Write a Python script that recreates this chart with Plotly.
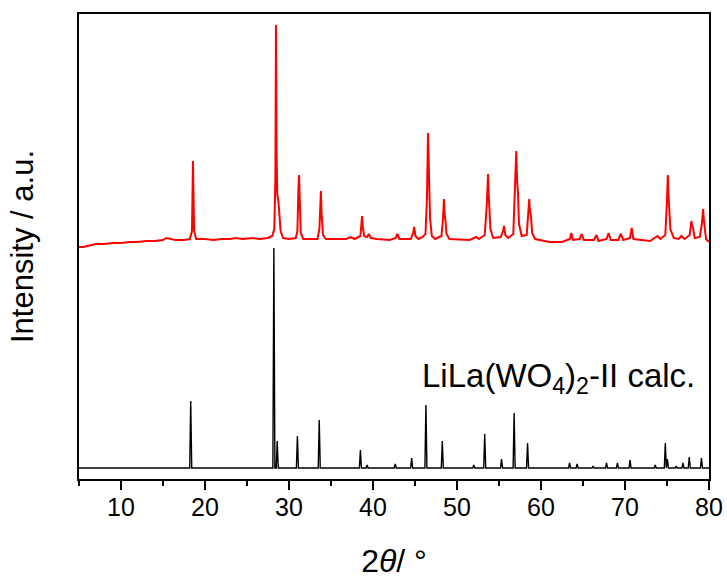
import plotly.graph_objects as go

# Measured powder pattern (2theta in degrees, intensity in arbitrary units, offset upward)
exp_two_theta = [
    5.0, 5.5, 6.0, 6.5, 7.0, 8.0, 9.0, 10.0, 11.0, 12.0, 13.0, 14.0, 15.0, 15.4, 15.8,
    16.5, 17.5, 18.2, 18.45, 18.52, 18.57, 18.62, 18.7, 18.95, 20.0, 21.0, 22.0, 23.0,
    23.65, 24.5, 25.7, 26.5, 27.5, 28.0, 28.25, 28.38, 28.45, 28.52, 28.6, 28.75, 28.85,
    29.0, 29.3, 30.0, 30.8, 31.0, 31.12, 31.2, 31.28, 31.4, 31.7, 33.4, 33.62, 33.73,
    33.8, 33.88, 34.05, 34.4, 36.8, 37.35, 37.8, 38.5, 38.63, 38.7, 38.78, 38.95, 39.3,
    39.5, 39.75, 40.5, 42.0, 42.7, 42.9, 43.15, 44.5, 44.78, 44.9, 45.05, 45.4, 45.9,
    46.25, 46.42, 46.55, 46.62, 46.7, 46.8, 47.0, 47.4, 48.15, 48.33, 48.45, 48.52,
    48.6, 48.75, 49.1, 51.5, 52.3, 52.6, 53.3, 53.55, 53.7, 53.77, 53.85, 53.98, 54.3,
    55.2, 55.48, 55.6, 55.75, 56.1, 56.7, 56.93, 57.06, 57.14, 57.26, 57.38, 57.7, 58.3,
    58.5, 58.6, 58.68, 58.8, 58.95, 59.3, 61.0, 62.5, 63.45, 63.6, 63.8, 64.6, 64.85,
    65.1, 66.3, 66.6, 66.85, 67.8, 68.05, 68.3, 69.2, 69.5, 69.8, 70.6, 70.8, 71.0,
    73.0, 73.85, 74.2, 74.8, 74.98, 75.1, 75.17, 75.25, 75.4, 75.8, 76.4, 76.7, 77.1,
    77.7, 77.9, 78.0, 78.1, 78.3, 78.9, 79.15, 79.3, 79.38, 79.45, 79.65, 80.0,
]
exp_intensity = [
    232, 232, 233, 234, 235, 235, 236, 236, 237, 237, 238, 238, 239, 241, 240,
    239, 239, 240, 248, 290, 318, 290, 248, 240, 240, 239, 240, 240,
    241, 240, 241, 240, 241, 243, 250, 300, 454, 330, 285, 277, 262,
    248, 241, 240, 241, 248, 290, 304, 280, 246, 240, 240, 250, 280,
    288, 265, 244, 240, 240, 242, 240, 243, 255, 263, 252, 243, 242,
    245, 241, 240, 239, 241, 245, 240, 240, 246, 252, 243, 240, 242,
    245, 280, 346, 300, 292, 260, 243, 240, 243, 260, 280, 265,
    261, 245, 240, 239, 242, 240, 244, 275, 305, 285, 274, 250, 241,
    242, 248, 253, 244, 241, 245, 290, 328, 300, 286, 255, 243, 244,
    270, 280, 268, 263, 246, 240, 237, 237, 240, 246, 239, 240, 245,
    239, 239, 244, 238, 240, 246, 239, 239, 245, 239, 241, 251, 240,
    238, 243, 240, 244, 275, 304, 285, 272, 250, 241, 240, 243, 240,
    244, 258, 253, 251, 241, 242, 255, 270, 260, 255, 240, 237,
]

# Calculated reflections of LiLa(WO4)2-II (position, height above baseline level)
calc_positions = [
    18.3, 28.2, 28.6, 31.0, 33.6, 38.5, 39.3, 42.65, 44.6, 46.3, 48.25, 52.0, 53.3,
    55.3, 56.8, 58.4, 63.4, 64.3, 66.2, 67.8, 69.1, 70.6, 73.6, 74.8, 75.05, 76.1,
    76.9, 77.65, 79.1,
]
calc_intensity = [
    78, 231, 38, 43, 59, 29, 14, 15, 21, 74, 38, 14, 45,
    20, 66, 36, 16, 15, 13, 16, 16, 19, 14, 36, 20, 13,
    16, 22, 21,
]
calc_baseline = 11
x_range = [5, 80]
x_ticks = [10, 20, 30, 40, 50, 60, 70, 80]

# Build the stick-like calculated profile on a flat baseline
peak_half_width = 0.12
calc_x = [x_range[0]]
calc_y = [calc_baseline]
for pos, height in zip(calc_positions, calc_intensity):
    calc_x += [pos - peak_half_width, pos, pos + peak_half_width]
    calc_y += [calc_baseline, height, calc_baseline]
calc_x.append(x_range[1])
calc_y.append(calc_baseline)

font_family = "Liberation Sans, Arial, sans-serif"

fig = go.Figure()
fig.add_trace(go.Scatter(
    x=exp_two_theta, y=exp_intensity, mode="lines",
    line=dict(color="#ff0000", width=2), showlegend=False,
))
fig.add_trace(go.Scatter(
    x=calc_x, y=calc_y, mode="lines",
    line=dict(color="#000000", width=1.4), showlegend=False,
))

fig.add_annotation(
    x=78.6, y=101, xref="x", yref="y",
    text="LiLa(WO<sub>4</sub>)<sub>2</sub>-II calc.",
    showarrow=False, xanchor="right", yanchor="middle",
    font=dict(family=font_family, size=33, color="#000000"),
)

fig.update_layout(
    width=727, height=579,
    margin=dict(l=79, r=18, t=14, b=100),
    paper_bgcolor="white", plot_bgcolor="white",
    font=dict(family=font_family, color="#000000"),
)
fig.update_xaxes(
    range=x_range, tickvals=x_ticks, ticktext=[str(v) for v in x_ticks],
    automargin=False,
    showline=True, linecolor="#000000", linewidth=1.5, mirror=True,
    ticks="outside", ticklen=9, tickwidth=1.5, tickcolor="#000000",
    minor=dict(dtick=5, tick0=5, ticks="outside", ticklen=5, tickwidth=1.5, tickcolor="#000000"),
    tickfont=dict(size=25, family=font_family),
    ticklabelstandoff=-4,
    showgrid=False, zeroline=False,
    title=dict(text="2<i>θ</i>/ °", font=dict(size=32, family=font_family), standoff=38),
)
fig.update_yaxes(
    range=[0, 465], automargin=False,
    showline=True, linecolor="#000000", linewidth=1.5, mirror=True,
    ticks="", showticklabels=False, showgrid=False, zeroline=False,
    title=dict(text="Intensity / a.u.", font=dict(size=31, family=font_family), standoff=34),
)

fig.write_html("out.html")
